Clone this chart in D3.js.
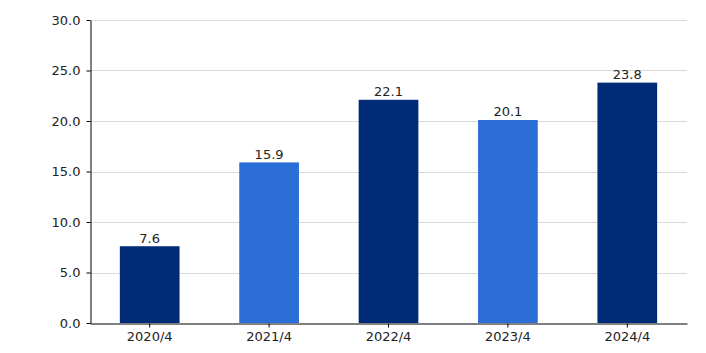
<!DOCTYPE html>
<html><head><meta charset="utf-8">
<script src="https://cdn.jsdelivr.net/npm/d3@7"></script>
<style>body{margin:0;background:#fff;}svg{display:block;font-family:"DejaVu Sans",Verdana,sans-serif;}</style>
</head><body><svg id="c" width="706" height="353"></svg>
<script>
const categories = ["2020/4","2021/4","2022/4","2023/4","2024/4"];
const values = [7.6, 15.9, 22.1, 20.1, 23.8];
const colors = ["#002c77","#2b6ed8","#002c77","#2b6ed8","#002c77"];
const yTicks = [0,5,10,15,20,25,30];

const svg = d3.select("#c");
const m = {l:90, r:687, t:20, b:323};
const x = d3.scaleBand().domain(categories).range([m.l, m.r]).paddingInner(0.5).paddingOuter(0.25);
const y = d3.scaleLinear().domain([0,30]).range([m.b, m.t]);

svg.append("g").selectAll("line").data(yTicks.filter(d=>d>0)).join("line")
  .attr("x1", m.l).attr("x2", m.r).attr("y1", d=>Math.round(y(d))+0.5).attr("y2", d=>Math.round(y(d))+0.5)
  .attr("stroke","#d9d9d9").attr("stroke-width",1);

svg.append("g").selectAll("rect").data(values).join("rect")
  .attr("x",(d,i)=>x(categories[i])).attr("width",x.bandwidth())
  .attr("y",d=>y(d)).attr("height",d=>y(0)-y(d))
  .attr("fill",(d,i)=>colors[i]);

svg.append("g").selectAll("text").data(values).join("text")
  .attr("x",(d,i)=>x(categories[i])+x.bandwidth()/2).attr("y",d=>y(d)-3.5)
  .attr("text-anchor","middle").attr("font-size",13).attr("fill","#222")
  .text(d=>d.toFixed(1));

const ya = svg.append("g").attr("transform",`translate(${m.l+0.5},0)`)
  .call(d3.axisLeft(y).tickValues(yTicks).tickFormat(d3.format(".1f")).tickSize(4).tickSizeOuter(0));
ya.select(".domain").attr("stroke","#000");
ya.selectAll(".tick line").attr("stroke","#000");
ya.selectAll("text").attr("font-size",13).attr("fill","#222").attr("font-family","DejaVu Sans, Verdana, sans-serif").attr("dx",-3);

const xa = svg.append("g").attr("transform",`translate(0,${m.b+0.5})`)
  .call(d3.axisBottom(x).tickSize(4).tickPadding(4).tickSizeOuter(0));
xa.select(".domain").attr("stroke","#000");
xa.selectAll(".tick line").attr("stroke","#000");
xa.selectAll("text").attr("font-size",13).attr("fill","#222").attr("font-family","DejaVu Sans, Verdana, sans-serif");
</script></body></html>
